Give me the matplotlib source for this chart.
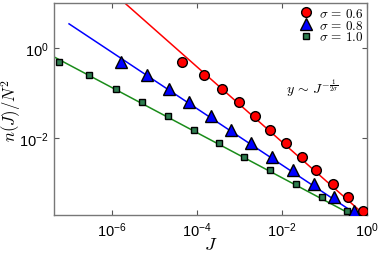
import numpy as np
import matplotlib
matplotlib.use("Agg")
import matplotlib.pyplot as plt
from matplotlib.font_manager import FontProperties

plt.rcParams['font.family'] = ['Liberation Sans', 'DejaVu Sans']
plt.rcParams['mathtext.fontset'] = 'custom'
plt.rcParams['mathtext.rm'] = 'Liberation Sans'
plt.rcParams['mathtext.it'] = 'Liberation Sans:italic'
plt.rcParams['mathtext.bf'] = 'Liberation Sans:bold'

# data
n_norm = [0.5, 0.25, 0.125, 0.0625, 0.03125, 0.0156, 0.0078, 0.0039,
          0.00195, 9.8e-4, 4.9e-4, 2.44e-4]
J_s06 = [4.47e-5, 1.48e-4, 3.98e-4, 1.0e-3, 2.34e-3, 5.25e-3, 1.26e-2,
         3.02e-2, 6.46e-2, 0.162, 0.363, 0.813]
J_s08 = [1.66e-6, 6.76e-6, 2.24e-5, 6.61e-5, 2.19e-4, 6.46e-4, 1.91e-3,
         5.89e-3, 1.86e-2, 5.75e-2, 0.170, 0.501]
J_s10 = [5.75e-8, 2.95e-7, 1.26e-6, 5.13e-6, 2.09e-5, 8.71e-5, 3.31e-4,
         1.29e-3, 5.25e-3, 2.19e-2, 8.91e-2, 0.347]
sigmas = [0.6, 0.8, 1.0]
fit_amp = [1.82e-4, 1.46e-4, 1.35e-4]
fit_start = [1e-6, 1e-7, 1e-8]
fit_end = 1.0

series = [J_s06, J_s08, J_s10]
line_colors = ['#ff0000', '#0000ff', '#1a8c1a']
face_colors = ['#ff0000', '#0000ff', '#2e7d4f']
markers = ['o', '^', 's']
msizes = [7, 8, 5]

fig = plt.figure(figsize=(3.81, 2.55), dpi=100)
ax = fig.add_axes([0.1425, 0.153, 0.8215, 0.831])

for J, s, A, j0, lc, fc, m, ms in zip(series, sigmas, fit_amp, fit_start,
                                       line_colors, face_colors, markers, msizes):
    jj = np.logspace(np.log10(j0), np.log10(fit_end), 50)
    ax.plot(jj, A * jj ** (-1.0 / (2 * s)), color=lc, lw=1.1, zorder=2)
    ax.plot(J, n_norm, ls='none', marker=m, ms=ms, mfc=fc, mec='black',
            mew=1.0, zorder=3, label=r'$\sigma\,=\,%.1f$' % s)

ax.set_xscale('log')
ax.set_yscale('log')
ax.set_xlim(4.5e-8, 1.03)
ax.set_ylim(2e-4, 10)
ax.set_xticks([1e-6, 1e-4, 1e-2, 1])
ax.set_yticks([1e-2, 1])
ax.minorticks_off()
ax.tick_params(direction='in', length=3.5, width=0.8, top=True, right=True,
               labelsize=10.5, pad=4, color='#555555')
for sp in ax.spines.values():
    sp.set_color('#777777')
    sp.set_linewidth(1.0)

cm = dict(math_fontfamily='cm')
ax.set_xlabel(r'$J$', fontsize=13, **cm)
ax.xaxis.set_label_coords(0.5, -0.1)
ax.set_ylabel(r'$n(J)/N^2$', fontsize=12, **cm)
ax.yaxis.set_label_coords(-0.1, 0.5)
ax.text(0.74, 0.58, r'$y\,\sim\,J^{-\frac{1}{2\sigma}}$', transform=ax.transAxes,
        fontsize=10, **cm)

leg = ax.legend(loc='upper right', frameon=False, numpoints=1,
                prop=FontProperties(size=9.5, math_fontfamily='cm'),
                handlelength=0.8, handletextpad=0.6, labelspacing=-0.1,
                borderaxespad=0.1, borderpad=0.2)

fig.savefig('out.png', dpi=100)
